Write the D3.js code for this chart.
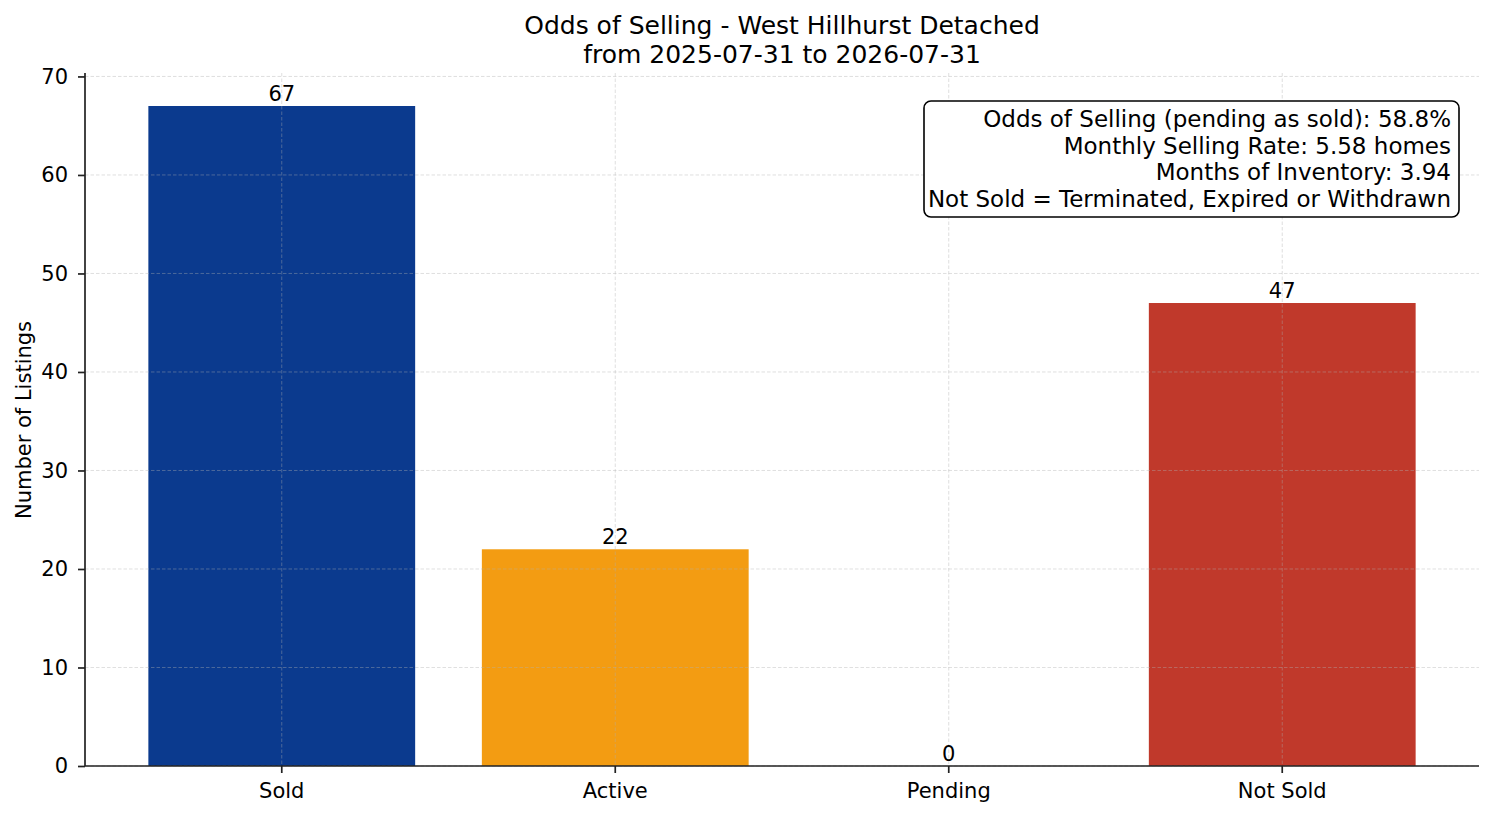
<!DOCTYPE html>
<html>
<head>
<meta charset="utf-8">
<script src="https://cdn.jsdelivr.net/npm/d3@7"></script>
<style>
  html, body { margin: 0; padding: 0; background: #fff; }
  svg { display: block; font-family: "DejaVu Sans", sans-serif; }
</style>
</head>
<body>
<svg width="1494" height="816"></svg>
<script>
// chart data
const categories = ['Sold', 'Active', 'Pending', 'Not Sold'];
const counts = [67, 22, 0, 47];
const barColors = ['#0b3a8e', '#f39c12', '#8e44ad', '#c0392b'];
const yTicks = [0, 10, 20, 30, 40, 50, 60, 70];
const titleLines = ['Odds of Selling - West Hillhurst Detached', 'from 2025-07-31 to 2026-07-31'];
const infoLines = [
    'Odds of Selling (pending as sold): 58.8%',
    'Monthly Selling Rate: 5.58 homes',
    'Months of Inventory: 3.94',
    'Not Sold = Terminated, Expired or Withdrawn'
];

const $svg = d3.select('svg');
const margin = {left: 85, right: 1479, top: 73, bottom: 766};

// band scale mimics matplotlib bar width 0.8 with 5% margins
const x = d3.scaleBand()
    .domain(categories)
    .range([margin.left, margin.right])
    .paddingInner(0.2)
    .paddingOuter(0.19);

const y = d3.scaleLinear()
    .domain([0, d3.max(counts) * 1.05])
    .range([margin.bottom, margin.top]);

// bars
$svg.append('g').selectAll('rect')
    .data(categories)
    .join('rect')
    .attr('x', (d) => x(d))
    .attr('width', x.bandwidth())
    .attr('y', (d, i) => y(counts[i]))
    .attr('height', (d, i) => y(0) - y(counts[i]))
    .attr('fill', (d, i) => barColors[i]);

// grid on top of the bars
const $grid = $svg.append('g')
    .attr('stroke', '#b0b0b0')
    .attr('stroke-opacity', 0.5)
    .attr('stroke-width', 0.8)
    .attr('stroke-dasharray', '3.5,2');
$grid.selectAll('line.h')
    .data(yTicks)
    .join('line')
    .attr('class', 'h')
    .attr('x1', margin.left).attr('x2', margin.right)
    .attr('y1', (d) => y(d)).attr('y2', (d) => y(d));
$grid.selectAll('line.v')
    .data(categories)
    .join('line')
    .attr('class', 'v')
    .attr('x1', (d) => x(d) + x.bandwidth() / 2).attr('x2', (d) => x(d) + x.bandwidth() / 2)
    .attr('y1', margin.top).attr('y2', margin.bottom);

// axes
const yAxis = d3.axisLeft(y).tickValues(yTicks).tickSize(7).tickPadding(10);
const $ya = $svg.append('g')
    .attr('transform', `translate(${margin.left},0)`)
    .call(yAxis);
const xAxis = d3.axisBottom(x).tickSize(7).tickPadding(10);
const $xa = $svg.append('g')
    .attr('transform', `translate(0,${margin.bottom})`)
    .call(xAxis);

[$ya, $xa].forEach(($a) => {
    $a.select('.domain').attr('stroke', '#222').attr('stroke-width', 1.7);
    $a.selectAll('.tick line').attr('stroke', '#222').attr('stroke-width', 1.7);
    $a.selectAll('.tick text')
        .attr('fill', '#000')
        .style('font-family', '"DejaVu Sans", sans-serif')
        .style('font-size', '21px');
});
// drop the outer ticks of the domain paths like matplotlib spines
$ya.select('.domain').attr('d', `M0,${margin.bottom}V${margin.top}`);
$xa.select('.domain').attr('d', `M${margin.left},0H${margin.right}`);

// value labels
$svg.append('g').selectAll('text')
    .data(categories)
    .join('text')
    .attr('x', (d) => x(d) + x.bandwidth() / 2)
    .attr('y', (d, i) => y(counts[i]) - 5)
    .attr('text-anchor', 'middle')
    .style('font-size', '21px')
    .text((d, i) => counts[i]);

// y label
$svg.append('text')
    .attr('transform', 'translate(31,420) rotate(-90)')
    .attr('text-anchor', 'middle')
    .style('font-size', '21px')
    .text('Number of Listings');

// title
$svg.append('g').selectAll('text')
    .data(titleLines)
    .join('text')
    .attr('x', 782)
    .attr('y', (d, i) => 34 + i * 29)
    .attr('text-anchor', 'middle')
    .style('font-size', '25px')
    .text((d) => d);

// info box
const $box = $svg.append('g');
$box.append('rect')
    .attr('x', 924).attr('y', 101)
    .attr('width', 535).attr('height', 116)
    .attr('rx', 7)
    .attr('fill', '#fff')
    .attr('stroke', '#000')
    .attr('stroke-width', 1.6);
$box.selectAll('text')
    .data(infoLines)
    .join('text')
    .attr('x', 1451)
    .attr('y', (d, i) => 127 + i * 26.7)
    .attr('text-anchor', 'end')
    .style('font-size', '23px')
    .text((d) => d);
</script>
</body>
</html>
